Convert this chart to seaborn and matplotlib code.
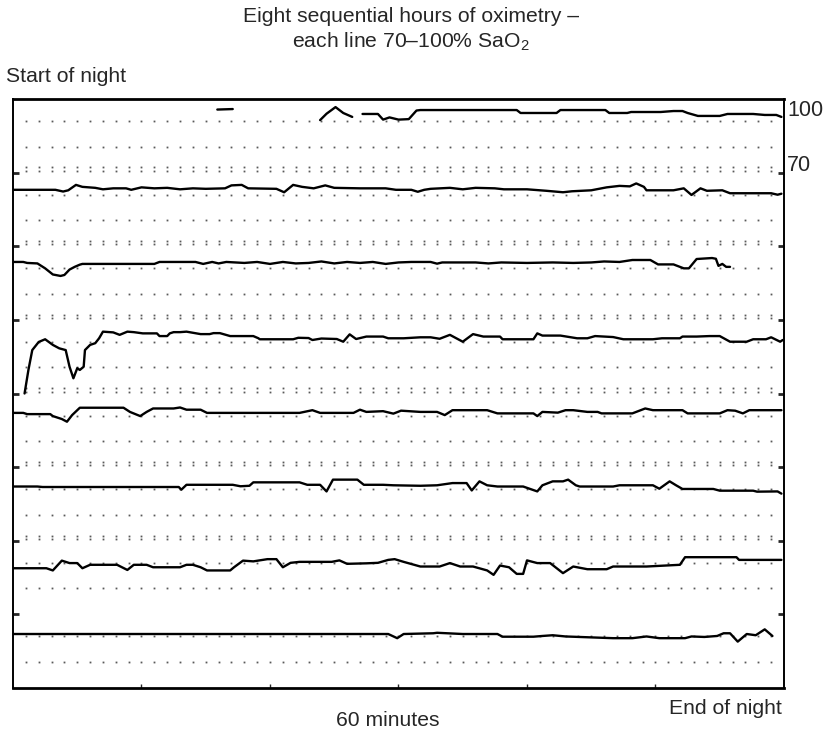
import numpy as np
import pandas as pd
import matplotlib
matplotlib.use('Agg')
import matplotlib.pyplot as plt
import matplotlib.transforms as mtransforms
import seaborn as sns

# Данные: каждая полоса - один час ночной оксиметрии (минуты, SaO2 %)
nan = np.nan

hour1_min = [15.9, 17.1, 17.2, 23.9, 24.4, 25.1, 25.7, 26.4, 26.8, 27.2, 28.4, 28.8, 29.3, 30.0,
             30.8, 31.4, 31.7, 39.2, 39.5, 42.3, 42.6, 46.1, 46.4, 47.8, 48.1, 50.4, 51.4, 52.1,
             52.5, 53.3, 55.0, 55.6, 57.6, 58.5, 59.4, 59.8]
hour1_sat = [95.7, 95.9, nan, 91.4, 94.0, 96.7, 94.3, 92.7, nan, 93.9, 93.9, 91.6, 92.5, 91.6,
             91.8, 95.3, 95.5, 95.5, 94.3, 94.3, 95.5, 95.5, 94.3, 94.3, 94.7, 94.7, 95.1, 95.1,
             94.3, 93.1, 93.1, 93.9, 93.9, 93.5, 93.5, 92.7]

hour2_min = [0, 3.3, 3.9, 4.3, 4.9, 5.4, 6.4, 7.0, 7.8, 8.8, 9.2, 10.0, 11.0, 12.0, 13.0, 14.0,
             15.0, 16.5, 17.0, 17.8, 18.3, 20.5, 21.1, 21.8, 22.5, 23.4, 24.3, 25.0, 27.0, 29.0,
             29.8, 31.0, 31.5, 32.0, 32.5, 34.0, 35.0, 36.0, 37.5, 38.2, 40.0, 41.5, 42.8, 43.5,
             45.0, 46.2, 47.2, 48.0, 48.5, 49.1, 49.3, 51.4, 52.2, 52.8, 53.5, 54.0, 55.2, 55.8,
             59.0, 59.5, 59.8]
hour2_sat = [93.0, 93.0, 92.3, 92.8, 95.0, 94.2, 93.8, 93.2, 93.6, 93.6, 93.0, 94.0, 93.6, 93.8,
             93.2, 93.6, 93.4, 93.6, 94.8, 95.0, 93.6, 93.4, 92.0, 95.0, 94.2, 93.6, 94.8, 93.8,
             93.6, 93.6, 93.0, 93.0, 92.2, 93.0, 93.4, 93.8, 93.2, 93.8, 93.6, 93.2, 93.2, 92.6,
             92.0, 92.4, 92.8, 94.0, 94.6, 94.4, 95.6, 94.2, 92.8, 92.8, 93.6, 90.9, 93.6, 92.6,
             92.8, 91.6, 91.6, 91.0, 91.4]

hour3_min = [0, 0.8, 1.1, 1.9, 2.5, 3.1, 3.7, 4.0, 4.4, 4.8, 5.2, 5.4, 11.0, 11.4, 14.2, 14.8,
             15.5, 16.0, 16.6, 18.0, 19.0, 20.0, 21.0, 22.0, 23.0, 24.0, 25.0, 26.0, 27.0, 28.0,
             29.0, 30.0, 31.0, 32.5, 33.0, 33.4, 36.0, 37.0, 38.0, 40.0, 42.0, 43.6, 45.0, 46.0,
             47.2, 48.2, 49.6, 50.2, 51.4, 52.2, 52.6, 53.2, 54.4, 54.7, 54.9, 55.2, 55.5, 55.8]
hour3_sat = [93.6, 93.6, 93.2, 93.0, 91.0, 88.5, 87.9, 88.3, 90.5, 91.6, 92.5, 92.8, 92.8, 93.6,
             93.6, 92.8, 93.6, 93.0, 93.6, 93.2, 93.6, 92.8, 93.6, 93.0, 93.2, 93.8, 93.0, 93.6,
             93.2, 93.6, 92.8, 93.4, 93.6, 93.6, 92.9, 93.4, 93.4, 93.0, 93.4, 93.2, 93.4, 93.2,
             93.4, 93.8, 93.6, 94.4, 94.4, 92.6, 92.6, 91.0, 91.0, 94.8, 95.2, 94.9, 92.0, 92.8,
             91.6, 91.6]

hour4_min = [0.9, 1.2, 1.5, 2.0, 2.5, 3.1, 3.6, 4.1, 4.4, 4.7, 5.0, 5.2, 5.5, 5.6, 6.0, 6.4,
             6.7, 7.0, 7.8, 8.3, 8.9, 9.4, 10.1, 11.2, 11.4, 12.0, 12.2, 12.5, 13.0, 13.5, 14.6,
             15.3, 15.6, 16.1, 16.9, 18.7, 19.1, 19.2, 21.8, 22.2, 23.0, 23.3, 24.0, 25.2, 25.7,
             26.2, 26.7, 27.5, 28.8, 29.2, 30.4, 31.7, 32.5, 33.2, 34.0, 35.0, 35.8, 36.6, 37.9,
             38.1, 40.5, 40.8, 41.2, 42.6, 43.9, 44.7, 45.3, 46.7, 47.5, 49.8, 50.5, 51.9, 52.1,
             53.2, 54.2, 55.0, 55.8, 57.1, 57.6, 58.6, 59.0, 59.7, 59.9]
hour4_sat = [70.0, 79.6, 87.7, 91.0, 92.1, 89.8, 88.4, 87.7, 80.9, 76.2, 80.3, 79.6, 80.9, 87.7,
             89.8, 90.5, 92.5, 95.2, 94.9, 93.9, 95.2, 95.0, 94.5, 94.5, 93.4, 93.4, 94.5, 95.0,
             95.0, 95.2, 94.2, 94.2, 94.6, 94.6, 93.4, 93.4, 92.5, 92.1, 92.1, 92.7, 92.6, 91.8,
             92.4, 92.2, 91.1, 94.1, 92.2, 93.2, 93.2, 92.5, 92.5, 92.9, 92.9, 92.3, 93.9, 91.1,
             94.2, 93.2, 93.2, 92.1, 92.1, 94.5, 93.6, 93.6, 92.5, 92.5, 93.4, 93.0, 92.1, 92.1,
             92.5, 92.5, 93.2, 93.2, 93.4, 93.4, 91.1, 91.1, 92.1, 92.1, 92.9, 91.1, 91.8]

hour5_min = [0, 0.8, 1.1, 2.9, 3.1, 3.8, 4.2, 4.6, 5.2, 8.6, 9.1, 9.9, 10.4, 10.9, 12.5, 13.0,
             13.5, 14.6, 15.1, 22.3, 23.3, 23.9, 26.5, 27.0, 27.5, 28.8, 29.6, 30.2, 31.7, 33.0,
             33.6, 34.2, 36.9, 37.7, 40.5, 40.8, 41.2, 42.4, 43.0, 43.6, 44.7, 45.5, 45.8, 48.2,
             49.2, 49.8, 52.1, 52.5, 55.0, 55.6, 56.2, 56.8, 57.3, 59.8]
hour5_sat = [92.1, 92.1, 91.6, 91.6, 90.8, 89.6, 88.5, 91.2, 94.2, 94.2, 92.5, 90.8, 92.5, 93.9,
             93.9, 94.3, 93.4, 93.4, 92.1, 92.1, 93.2, 92.1, 92.1, 93.4, 92.5, 92.8, 91.8, 93.0,
             92.5, 92.5, 91.2, 93.2, 93.2, 91.9, 91.9, 90.8, 92.5, 92.2, 93.2, 93.2, 92.5, 92.5,
             91.9, 91.9, 93.9, 93.2, 93.2, 91.9, 91.9, 93.2, 93.0, 91.9, 93.2, 93.2]

hour6_min = [0, 1.9, 2.3, 12.9, 13.1, 13.5, 17.1, 17.7, 18.4, 18.7, 22.3, 22.9, 23.9, 24.4,
             24.9, 26.8, 27.3, 28.8, 29.6, 31.7, 33.0, 34.2, 35.3, 35.7, 36.3, 36.9, 37.7, 39.7,
             40.8, 41.2, 42.0, 42.8, 43.2, 43.8, 44.1, 46.7, 47.2, 49.8, 50.3, 51.1, 51.6, 52.1,
             54.5, 55.0, 57.6, 57.9, 59.5, 59.8]
hour6_sat = [92.1, 92.1, 91.9, 91.9, 90.8, 92.8, 92.8, 92.2, 92.4, 93.8, 93.8, 92.8, 92.8, 90.1,
             94.9, 94.9, 92.8, 92.8, 92.6, 92.4, 92.6, 93.5, 93.5, 90.5, 94.2, 92.6, 92.1, 92.1,
             90.1, 92.6, 94.2, 94.2, 94.9, 92.6, 92.1, 92.1, 92.6, 92.6, 91.2, 94.2, 92.6, 91.1,
             91.1, 90.4, 90.4, 90.0, 90.1, 89.2]

hour7_min = [0, 2.6, 3.1, 3.8, 4.4, 5.0, 5.4, 6.0, 8.1, 8.9, 9.4, 10.4, 10.9, 13.0, 13.5, 14.0,
             14.6, 15.1, 16.9, 17.2, 17.9, 18.7, 19.8, 20.5, 21.0, 21.6, 22.3, 24.8, 25.4, 26.0,
             27.5, 28.4, 29.2, 29.7, 30.4, 31.7, 33.2, 34.0, 34.8, 35.8, 36.9, 37.4, 37.9, 38.6,
             39.2, 39.7, 40.0, 40.8, 41.8, 42.8, 43.6, 44.7, 46.2, 46.7, 48.4, 49.3, 51.9, 52.3,
             56.3, 56.5, 59.8]
hour7_sat = [88.8, 88.8, 87.9, 91.9, 90.9, 90.9, 88.8, 90.2, 90.2, 88.1, 90.2, 90.2, 89.2, 89.2,
             90.2, 90.2, 89.2, 87.9, 87.9, 89.2, 91.9, 91.6, 92.5, 92.5, 89.2, 91.0, 91.4, 91.4,
             92.0, 90.6, 90.8, 91.0, 92.2, 92.5, 91.4, 89.5, 89.5, 90.9, 89.5, 89.5, 87.9, 86.1,
             89.9, 89.2, 86.5, 86.5, 92.0, 90.9, 90.9, 86.8, 89.5, 88.4, 88.4, 89.5, 89.5, 89.5,
             90.2, 93.3, 93.3, 92.2, 92.2]

hour8_min = [0, 29.2, 29.9, 30.4, 32.7, 33.0, 35.0, 37.7, 38.1, 40.5, 41.2, 42.0, 43.0, 46.7,
             48.2, 49.3, 50.3, 52.3, 52.8, 53.8, 54.8, 55.3, 55.8, 56.4, 57.1, 57.8, 58.5, 59.1]
hour8_sat = [92.0, 92.0, 90.3, 92.0, 92.3, 92.5, 92.0, 92.0, 90.9, 90.9, 91.2, 91.5, 91.0, 90.3,
             90.3, 91.0, 90.3, 90.3, 91.0, 90.8, 91.2, 92.3, 92.3, 88.9, 92.0, 91.5, 93.9, 91.2]

hours_min = [hour1_min, hour2_min, hour3_min, hour4_min, hour5_min, hour6_min, hour7_min, hour8_min]
hours_sat = [hour1_sat, hour2_sat, hour3_sat, hour4_sat, hour5_sat, hour6_sat, hour7_sat, hour8_sat]

# Каждая полоса: 70-100% SaO2, полосы идут сверху вниз
strip = 30
n_strips = len(hours_min)

rows = []
for k, (mins, sats) in enumerate(zip(hours_min, hours_sat)):
    base = (n_strips - 1 - k) * strip
    seg = 0
    for m, s in zip(mins, sats):
        if np.isnan(s):
            seg += 1
            continue
        rows.append({'minute': m, 'y': base + s - 70, 'trace': f'{k}_{seg}'})
df = pd.DataFrame(rows)

sns.set_style('white')
plt.rcParams['font.family'] = ['Liberation Sans', 'DejaVu Sans']
plt.rcParams['mathtext.fontset'] = 'custom'
plt.rcParams['mathtext.rm'] = 'Liberation Sans'

fig = plt.figure(figsize=(8.28, 7.31), dpi=100)
ax = fig.add_axes([13 / 828, 1 - 688 / 731, 771 / 828, 589 / 731])

# Точечная сетка: каждую минуту, три ряда на полосу
dot_x = np.arange(1, 60)
for k in range(n_strips):
    base = (n_strips - 1 - k) * strip
    for off in (10.6, 21.0):
        ax.plot(dot_x, np.full(dot_x.shape, base + off), ls='none', marker='s',
                ms=1.3, mew=0, color='0.35', zorder=1)
    if k < n_strips - 1:
        for off in (0.8, 2.1):
            ax.plot(dot_x, np.full(dot_x.shape, base + strip + off), ls='none', marker='s',
                    ms=1.3, mew=0, color='0.35', zorder=1)

sns.lineplot(data=df, x='minute', y='y', units='trace', estimator=None, sort=False,
             color='black', lw=1.7, ax=ax, zorder=3)

ax.set_xlim(0, 60)
ax.set_ylim(0, n_strips * strip)
ax.set_xticks(np.arange(10, 60, 10))
ax.set_yticks(np.arange(strip, n_strips * strip, strip))
ax.set_xticklabels([])
ax.set_yticklabels([])
ax.tick_params(axis='x', direction='in', length=3, width=1, bottom=True)
ax.tick_params(axis='y', direction='in', length=4, width=2, left=True, right=True)
ax.set_xlabel('')
ax.set_ylabel('')
for sp in ax.spines.values():
    sp.set_visible(True)
    sp.set_color('black')
    sp.set_linewidth(1.4)
ax.spines['top'].set_linewidth(2)
ax.spines['bottom'].set_linewidth(2)

# Подписи
fs = 15.2
fig.text(411 / 828, 1 - 17 / 731, 'Eight sequential hours of oximetry –',
         ha='center', va='center', fontsize=fs)
fig.text(411 / 828, 1 - 42 / 731, 'each line 70–100% SaO$_\\mathregular{2}$',
         ha='center', va='center', fontsize=fs)
fig.text(6 / 828, 1 - 77 / 731, 'Start of night', ha='left', va='center', fontsize=fs)
fig.text(388 / 828, 1 - 720 / 731, '60 minutes', ha='center', va='center', fontsize=fs)
fig.text(782 / 828, 1 - 708 / 731, 'End of night', ha='right', va='center', fontsize=fs)

trans = mtransforms.blended_transform_factory(ax.transAxes, ax.transData)
ax.text(1.004, n_strips * strip - 4.5, '100', transform=trans, ha='left', va='center', fontsize=15.5)
ax.text(1.004, (n_strips - 1) * strip + 2.7, '70', transform=trans, ha='left', va='center', fontsize=15.5)

fig.savefig('out.png', dpi=100)
